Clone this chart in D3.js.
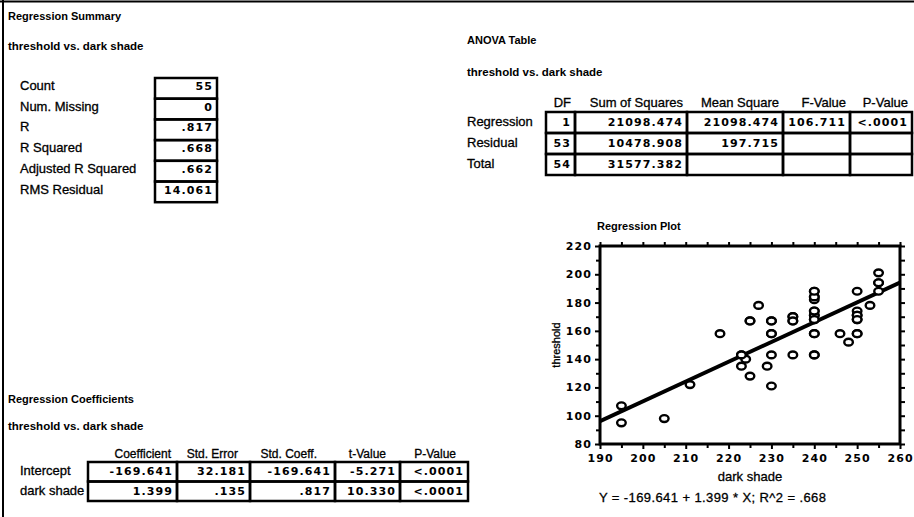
<!DOCTYPE html>
<html>
<head>
<meta charset="utf-8">
<script src="https://cdn.jsdelivr.net/npm/d3@7"></script>
<style>
  body { margin: 0; background: #fff; }
  svg { display: block; }
  .lbl { font-family: "Liberation Sans", Arial, sans-serif; font-size: 13px; stroke: #000; stroke-width: 0.3px; }
  .ttl { font-family: "Liberation Sans", Arial, sans-serif; font-size: 11px; font-weight: bold; }
  .sub { font-size: 11.5px; }
  .num { font-family: "DejaVu Sans", sans-serif; font-size: 11px; font-weight: bold; letter-spacing: 1.1px; }
</style>
</head>
<body>
<svg id="chart" width="914" height="517"></svg>
<script>
// ---- data ----
const summaryLabels = ['Count', 'Num. Missing', 'R', 'R Squared', 'Adjusted R Squared', 'RMS Residual'];
const summaryValues = ['55', '0', '.817', '.668', '.662', '14.061'];

const anovaCols = ['DF', 'Sum of Squares', 'Mean Square', 'F-Value', 'P-Value'];
const anovaRows = ['Regression', 'Residual', 'Total'];
const anovaValues = [
  ['1', '21098.474', '21098.474', '106.711', '<.0001'],
  ['53', '10478.908', '197.715', '', ''],
  ['54', '31577.382', '', '', '']
];

const coefCols = ['Coefficient', 'Std. Error', 'Std. Coeff.', 't-Value', 'P-Value'];
const coefRows = ['Intercept', 'dark shade'];
const coefValues = [
  ['-169.641', '32.181', '-169.641', '-5.271', '<.0001'],
  ['1.399', '.135', '.817', '10.330', '<.0001']
];

// scatter points (several overlap exactly)
const darkShade = [195, 195, 205, 211, 218, 223, 224, 223, 225, 225, 227, 230, 230, 230, 229, 230,
  235, 235, 235, 240, 240, 240, 240, 240, 240, 240, 240, 246, 248, 250, 250, 250, 250, 250, 253,
  255, 255, 255,
  240, 240, 240, 240, 240, 235, 235, 250, 250, 250, 230, 230, 223, 225, 255, 240, 240];
const threshold = [107, 95, 98, 122, 158, 143, 140, 135, 128, 167, 178, 167, 158, 143, 135, 121,
  170, 167, 143, 188, 184, 182, 174, 171, 168, 158, 143, 158, 152, 188, 174, 171, 168, 158, 178,
  201, 194, 188,
  171, 168, 174, 158, 143, 170, 167, 171, 168, 158, 167, 158, 143, 167, 194, 184, 188];

const intercept = -169.641, slope = 1.399;
const equation = 'Y = -169.641 + 1.399 * X; R^2 = .668';

const svg = d3.select('#chart');

// page edges of the scanned sheet
svg.append('line').attr('x1', 0).attr('x2', 914).attr('y1', 1.5).attr('y2', 1.5)
  .attr('stroke', '#000').attr('stroke-width', 2);
svg.append('line').attr('x1', 3).attr('x2', 3).attr('y1', 0).attr('y2', 517)
  .attr('stroke', '#000').attr('stroke-width', 2);

function title(x, y, txt, cls) {
  svg.append('text').attr('class', 'ttl' + (cls ? ' ' + cls : '')).attr('x', x).attr('y', y).text(txt);
}

/**
 * Boxed table: edges = column borders, values[row][col], right aligned in each cell
 */
function table(edges, top, rowH, values, base) {
  const g = svg.append('g');
  values.forEach((row, r) => {
    row.forEach((v, c) => {
      g.append('rect')
        .attr('x', edges[c]).attr('y', top + r * rowH)
        .attr('width', edges[c + 1] - edges[c]).attr('height', rowH)
        .attr('fill', 'none').attr('stroke', '#000').attr('stroke-width', 2.5);
      g.append('text').attr('class', 'num')
        .attr('x', edges[c + 1] - 4).attr('y', top + r * rowH + base)
        .attr('text-anchor', 'end').text(v);
    });
  });
  return g;
}

// ---- Regression Summary ----
title(8, 20, 'Regression Summary');
title(8, 50, 'threshold vs. dark shade', 'sub');
const sumTop = 78, sumRowH = 20.7;
summaryLabels.forEach((d, i) => {
  svg.append('text').attr('class', 'lbl').attr('x', 20).attr('y', sumTop + i * sumRowH + 12).text(d);
});
table([155, 217], sumTop, sumRowH, summaryValues.map(v => [v]), 12);

// ---- ANOVA Table ----
title(467, 44, 'ANOVA Table');
title(467, 76, 'threshold vs. dark shade', 'sub');
const anovaEdges = [546, 575, 687, 783, 850, 912];
const anovaTop = 112, anovaRowH = 21;
anovaCols.forEach((d, i) => {
  svg.append('text').attr('class', 'lbl').attr('x', anovaEdges[i + 1] - 4).attr('y', 107)
    .attr('text-anchor', 'end').text(d);
});
anovaRows.forEach((d, i) => {
  svg.append('text').attr('class', 'lbl').attr('x', 467).attr('y', anovaTop + i * anovaRowH + 14).text(d);
});
table(anovaEdges, anovaTop, anovaRowH, anovaValues, 14);

// ---- Regression Coefficients ----
title(8, 403, 'Regression Coefficients');
title(8, 430, 'threshold vs. dark shade', 'sub');
const coefEdges = [88, 177, 250, 335, 400, 468];
const coefHeadPad = [6, 12, 18, 14, 12];
const coefTop = 462, coefRowH = 19.5;
coefCols.forEach((d, i) => {
  svg.append('text').attr('class', 'lbl').attr('x', coefEdges[i + 1] - coefHeadPad[i]).attr('y', 458)
    .attr('text-anchor', 'end').style('font-size', '12px').text(d);
});
coefRows.forEach((d, i) => {
  svg.append('text').attr('class', 'lbl').attr('x', 20).attr('y', coefTop + i * coefRowH + 13).text(d);
});
table(coefEdges, coefTop, coefRowH, coefValues, 13);

// ---- Regression Plot ----
const x = d3.scaleLinear().domain([190, 260]).range([600, 900]);
const y = d3.scaleLinear().domain([80, 220]).range([444, 246]);

svg.append('text').attr('class', 'ttl').attr('x', 597).attr('y', 230).text('Regression Plot');

const axisStyle = g => {
  g.select('.domain').remove();
  g.selectAll('line').attr('stroke', '#000').attr('stroke-width', 2);
  g.selectAll('text').attr('class', 'num').attr('fill', '#000');
};

const xMajor = d3.range(190, 261, 10);
const xMinor = d3.range(195, 260, 10);
const yMajor = d3.range(80, 221, 20);
const yMinor = d3.range(90, 220, 20);

svg.append('g').attr('transform', 'translate(0,444)')
  .call(d3.axisBottom(x).tickValues(xMajor).tickSize(5).tickPadding(5).tickFormat(d3.format('d')))
  .call(axisStyle);
svg.append('g').attr('transform', 'translate(0,444)')
  .call(d3.axisBottom(x).tickValues(xMinor).tickSize(4).tickFormat(''))
  .call(axisStyle);
svg.append('g').attr('transform', 'translate(0,246)')
  .call(d3.axisTop(x).tickValues(xMajor.concat(xMinor)).tickSize(4).tickFormat(''))
  .call(axisStyle);
svg.append('g').attr('transform', 'translate(600,0)')
  .call(d3.axisLeft(y).tickValues(yMajor).tickSize(5).tickPadding(3).tickFormat(d3.format('d')))
  .call(axisStyle);
svg.append('g').attr('transform', 'translate(600,0)')
  .call(d3.axisLeft(y).tickValues(yMinor).tickSize(4).tickFormat(''))
  .call(axisStyle);
svg.append('g').attr('transform', 'translate(900,0)')
  .call(d3.axisRight(y).tickValues(yMajor.concat(yMinor)).tickSize(5).tickFormat(''))
  .call(axisStyle);

// frame
svg.append('rect').attr('x', x(190)).attr('y', y(220))
  .attr('width', x(260) - x(190)).attr('height', y(80) - y(220))
  .attr('fill', 'none').attr('stroke', '#000').attr('stroke-width', 3);

svg.append('clipPath').attr('id', 'plotclip').append('rect')
  .attr('x', x(190)).attr('y', y(220)).attr('width', x(260) - x(190)).attr('height', y(80) - y(220));

const plot = svg.append('g').attr('clip-path', 'url(#plotclip)');
plot.append('line')
  .attr('x1', x(190)).attr('y1', y(intercept + slope * 190))
  .attr('x2', x(260)).attr('y2', y(intercept + slope * 260))
  .attr('stroke', '#000').attr('stroke-width', 4);

plot.selectAll('ellipse').data(darkShade).join('ellipse')
  .attr('cx', d => x(d))
  .attr('cy', (d, i) => y(threshold[i]))
  .attr('rx', 4.3).attr('ry', 3.4)
  .attr('fill', '#fff').attr('stroke', '#000').attr('stroke-width', 2.4);

svg.append('text').attr('class', 'lbl').attr('transform', 'translate(560,345) rotate(-90)')
  .attr('text-anchor', 'middle').style('font-size', '11px').text('threshold');
svg.append('text').attr('class', 'lbl').attr('x', 750).attr('y', 481)
  .attr('text-anchor', 'middle').text('dark shade');
svg.append('text').attr('class', 'lbl').attr('x', 599).attr('y', 502)
  .style('letter-spacing', '0.4px').text(equation);
</script>
</body>
</html>
